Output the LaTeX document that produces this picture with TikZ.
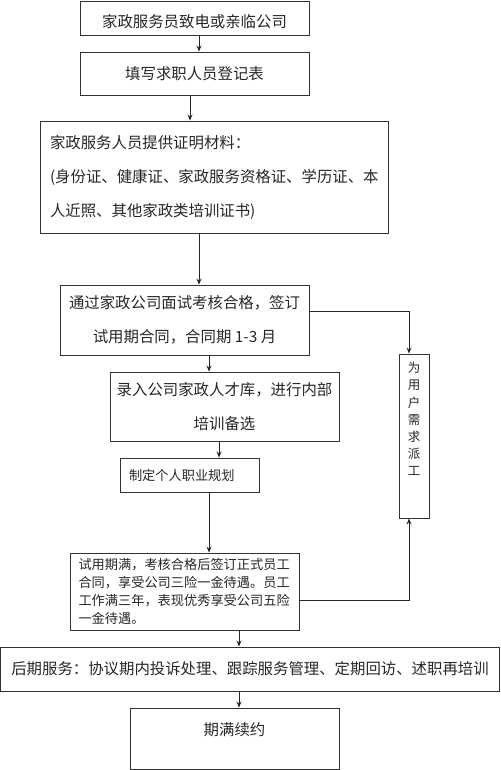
\documentclass[tikz,border=0pt]{standalone}
\usepackage{fontspec}
\newfontfamily\cjk{Noto Sans CJK SC}
\usepackage{tikz}
\usetikzlibrary{arrows.meta,positioning}
\newcommand{\bigtxt}{\cjk\fontsize{15.4}{34}\selectfont}
\newcommand{\smalltxt}{\cjk\fontsize{13.2}{17.7}\selectfont}
\newcommand{\vtxt}{\cjk\fontsize{12.5}{17.2}\selectfont}

\begin{document}
\begin{tikzpicture}[x=1pt,y=-1pt,
  box/.style={rectangle,draw=black!80,line width=0.9pt,text=black!85,
              inner sep=0pt,font=\bigtxt},
  arrow/.style={-{Stealth[length=6pt,width=5pt]},draw=black!85,line width=0.9pt}
]
\useasboundingbox (0,0) rectangle (500,770);

\node[box,minimum width=229pt,minimum height=34pt,text height=22pt,text depth=2pt] (hire) at (194.5,18) {家政服务员致电或亲临公司};
\node[box,minimum width=229pt,minimum height=43pt] (form) at (194.5,73.5) {填写求职人员登记表};
\node[box,minimum width=348pt,minimum height=112pt,text width=328pt,align=left] (docs) at (214,177)
  {家政服务人员提供证明材料：\\(身份证、健康证、家政服务资格证、学历证、本\\人近照、其他家政类培训证书)};
\node[box,minimum width=249pt,minimum height=70pt,align=center] (interview) at (184.5,320)
  {通过家政公司面试考核合格，签订\\试用期合同，合同期 1-3 月};
\node[box,minimum width=229pt,minimum height=69pt,align=center] (pool) at (224.5,406.5)
  {录入公司家政人才库，进行内部\\培训备选};
\node[box,font=\smalltxt,minimum width=139pt,minimum height=34pt,text width=121pt,align=left] (plan) at (189.5,475) {制定个人职业规划};
\node[box,font=\smalltxt,minimum width=229pt,minimum height=77pt,text width=212pt,align=left] (contract) at (184.5,591.5)
  {试用期满，考核合格后签订正式员工\\合同，享受公司三险一金待遇。员工\\工作满三年，表现优秀享受公司五险\\一金待遇。};
\node[box,minimum width=499pt,minimum height=44pt] (service) at (250,669)
  {后期服务：协议期内投诉处理、跟踪服务管理、定期回访、述职再培训};
\node[box,minimum width=209pt,minimum height=61pt,text depth=19pt] (renew) at (234.5,738.5) {期满续约};

\node[box,minimum width=30pt,minimum height=164pt] (dispatch) at (414,436) {};
\node[font=\vtxt,text=black!85,inner sep=0pt,align=center] (dispatchtxt) at (414,419)
  {为\\用\\户\\需\\求\\派\\工};

\draw[arrow] ([xshift=4.5]hire.south) -- ([xshift=4.5]form.north);
\draw[arrow] ([xshift=-4.5]form.south) -- ([xshift=-4.5]form.south |- docs.north);
\draw[arrow] (docs.south -| 199,0) -- (interview.north -| 199,0);
\draw[arrow] (interview.south -| 209,0) -- (pool.north -| 209,0);
\draw[arrow] ([yshift=9]interview.east) -| ([xshift=-5]dispatch.north);
\draw[arrow] (pool.south -| 219,0) -- (plan.north -| 219,0);
\draw[arrow] (plan.south -| 209,0) -- (contract.north -| 209,0);
\draw[arrow] ([yshift=-8.5]contract.east) -| ([xshift=-5]dispatch.south);
\draw[arrow] (contract.south -| 239,0) -- (service.north -| 239,0);
\draw[arrow] (service.south -| 239,0) -- (renew.north -| 239,0);
\end{tikzpicture}
\end{document}
